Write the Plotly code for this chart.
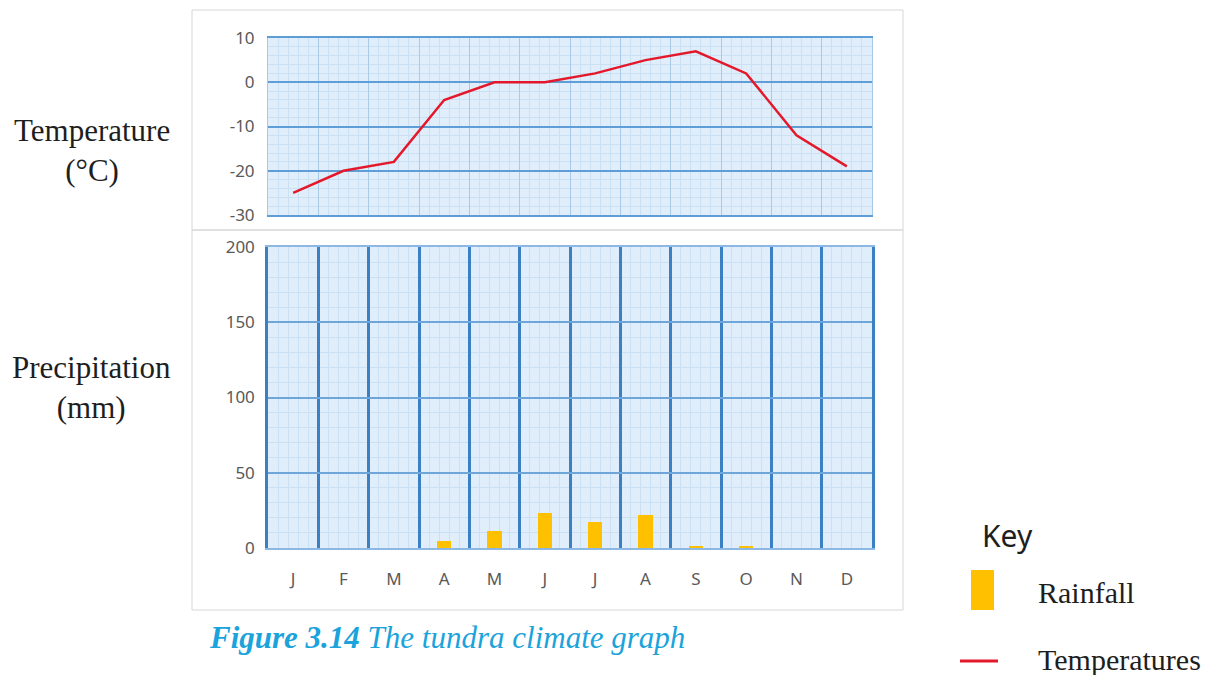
import plotly.graph_objects as go

# monthly climate data for the tundra
month_names = ["Jan", "Feb", "Mar", "Apr", "May", "Jun",
               "Jul", "Aug", "Sep", "Oct", "Nov", "Dec"]
month_letters = ["J", "F", "M", "A", "M", "J", "J", "A", "S", "O", "N", "D"]
temperature = [-25, -20, -18, -4, 0, 0, 2, 5, 7, 2, -12, -19]
rainfall = [0, 0, 0, 4.5, 11, 23, 17, 22, 1, 1, 0, 0]

temp_ticks = [-30, -20, -10, 0, 10]
temp_tick_labels = ["-30", "-20", "-10", "0", "10"]

W, H = 1215, 675
SERIF = "Liberation Serif"
SANS = "Noto Sans"
TICK_GREY = "#595959"
PAPER_BLUE = "#dfeefa"
MINOR_GRID = "#cbe0f3"
MID_BLUE = "#5f9dd6"
DARK_BLUE = "#3b80c2"
LIGHT_BLUE = "#a8c9e8"


def px_x(v):
    return v / W


def px_y(v):
    return 1 - v / H


x_dom = [px_x(268), px_x(872)]
top_dom = [px_y(215), px_y(38)]
bot_dom = [px_y(548), px_y(247)]

fig = go.Figure()

# empty traces so the graph-paper subplots get drawn under the data
for xa, ya in [("x", "y"), ("x2", "y2")]:
    fig.add_trace(go.Scatter(x=[], y=[], xaxis=xa, yaxis=ya,
                             showlegend=False, hoverinfo="skip"))

fig.add_trace(go.Scatter(
    x=month_names, y=temperature, xaxis="x3", yaxis="y",
    mode="lines", line=dict(color="#e3192b", width=2.5),
    showlegend=False, name="Temperatures",
))
fig.add_trace(go.Bar(
    x=month_names, y=rainfall, xaxis="x4", yaxis="y2",
    marker=dict(color="#ffc000", line=dict(width=0)), width=0.28,
    showlegend=False, name="Rainfall",
))

tickfont = dict(family=SANS, size=17, color=TICK_GREY)

fig.update_layout(
    width=W, height=H,
    margin=dict(l=0, r=0, t=0, b=0, autoexpand=False),
    paper_bgcolor="white",
    plot_bgcolor=PAPER_BLUE,
    bargap=0,
    # top panel grid (numeric axis only used for the graph-paper lines)
    xaxis=dict(
        type="linear", domain=x_dom, anchor="y", range=[-0.5, 11.5],
        automargin=False, tickmode="linear", tick0=-0.5, dtick=1,
        showgrid=True, gridcolor=LIGHT_BLUE, gridwidth=1,
        showticklabels=False, zeroline=False,
        showline=True, mirror=True, linecolor=MID_BLUE, linewidth=2,
        minor=dict(tickmode="linear", tick0=-0.5, dtick=0.2,
                   showgrid=True, gridcolor=MINOR_GRID, gridwidth=1),
    ),
    yaxis=dict(
        type="linear", domain=top_dom, anchor="x", range=[-30, 10],
        automargin=False,
        tickmode="array", tickvals=temp_ticks, ticktext=temp_tick_labels,
        showgrid=True, gridcolor=MID_BLUE, gridwidth=2,
        zeroline=False,
        showline=True, mirror=True, linecolor=LIGHT_BLUE, linewidth=1,
        ticks="outside", ticklen=9, tickcolor="rgba(0,0,0,0)",
        tickfont=tickfont,
        minor=dict(tickmode="linear", tick0=0, dtick=2,
                   showgrid=True, gridcolor=MINOR_GRID, gridwidth=1),
    ),
    # bottom panel grid
    xaxis2=dict(
        type="linear", domain=x_dom, anchor="y2", range=[-0.5, 11.5],
        automargin=False, tickmode="linear", tick0=-0.5, dtick=1,
        showgrid=True, gridcolor=DARK_BLUE, gridwidth=2.5,
        showticklabels=False, zeroline=False,
        showline=True, mirror=True, linecolor="#8db8e3", linewidth=1.5,
        minor=dict(tickmode="linear", tick0=-0.5, dtick=0.2,
                   showgrid=True, gridcolor=MINOR_GRID, gridwidth=1),
    ),
    yaxis2=dict(
        type="linear", domain=bot_dom, anchor="x2", range=[0, 200],
        automargin=False, tickmode="linear", tick0=0, dtick=50,
        showgrid=True, gridcolor="#6ea6da", gridwidth=1.5,
        zeroline=False,
        showline=True, mirror=True, linecolor=DARK_BLUE, linewidth=2.5,
        ticks="outside", ticklen=7, tickcolor="rgba(0,0,0,0)",
        tickfont=tickfont,
        minor=dict(tickmode="linear", tick0=0, dtick=10,
                   showgrid=True, gridcolor=MINOR_GRID, gridwidth=1),
    ),
    # category axes carrying the data
    xaxis3=dict(
        domain=x_dom, overlaying="x", anchor="y", type="category",
        range=[-0.5, 11.5], showgrid=False, zeroline=False,
        showticklabels=False, automargin=False,
    ),
    xaxis4=dict(
        domain=x_dom, overlaying="x2", anchor="y2", type="category",
        range=[-0.5, 11.5], showgrid=False, zeroline=False,
        tickmode="array", tickvals=month_names, ticktext=month_letters,
        ticks="outside", ticklen=16, tickcolor="rgba(0,0,0,0)",
        tickfont=tickfont, automargin=False,
    ),
)

# light grey frames round the two panels
for y_top, y_bot in [(10, 230), (230, 610)]:
    fig.add_shape(type="rect", xref="paper", yref="paper", layer="below",
                  x0=px_x(192), x1=px_x(903), y0=px_y(y_bot), y1=px_y(y_top),
                  line=dict(color="#d6d6d6", width=1))

text_style = dict(xref="paper", yref="paper", showarrow=False,
                  yanchor="middle")

# axis titles
fig.add_annotation(text="Temperature<br>(°C)", x=px_x(92), y=px_y(150),
                   xanchor="center", **text_style,
                   font=dict(family=SERIF, size=31, color="#1e1e1e"))
fig.add_annotation(text="Precipitation<br>(mm)", x=px_x(91), y=px_y(387),
                   xanchor="center", **text_style,
                   font=dict(family=SERIF, size=31, color="#1e1e1e"))

# caption
fig.add_annotation(
    text="<b><i>Figure 3.14</i></b><i> The tundra climate graph</i>",
    x=px_x(207), y=px_y(637), xanchor="left", **text_style,
    font=dict(family=SERIF, size=31, color="#1ba3dc"),
)

# key
fig.add_annotation(text="Key", x=px_x(980), y=px_y(535), xanchor="left",
                   **text_style,
                   font=dict(family=SANS, size=30, color="#1e1e1e"))
fig.add_shape(type="rect", xref="paper", yref="paper",
              x0=px_x(971), x1=px_x(994), y0=px_y(610), y1=px_y(570),
              line=dict(width=0), fillcolor="#ffc000")
fig.add_annotation(text="Rainfall", x=px_x(1036), y=px_y(592),
                   xanchor="left", **text_style,
                   font=dict(family=SERIF, size=30, color="#1e1e1e"))
fig.add_shape(type="line", xref="paper", yref="paper",
              x0=px_x(960), x1=px_x(998), y0=px_y(661), y1=px_y(661),
              line=dict(color="#e3192b", width=3))
fig.add_annotation(text="Temperatures", x=px_x(1036), y=px_y(659),
                   xanchor="left", **text_style,
                   font=dict(family=SERIF, size=30, color="#1e1e1e"))

# drop the default page margin so the figure sits at the window's corner
fig.write_html("out.html", config={"displayModeBar": False},
               post_script="document.body.style.margin='0';")
